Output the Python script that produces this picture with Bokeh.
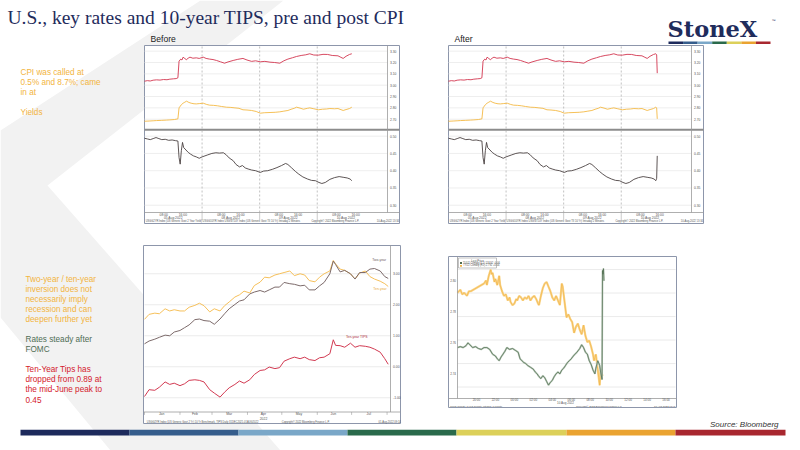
from bokeh.plotting import figure
from bokeh.models import Range1d
from bokeh.core.properties import value
from bokeh.embed import file_html
from bokeh.resources import INLINE

SANS = value("Liberation Sans")
SERIF = value("Liberation Serif")
NAVY = "#1f2c5c"
FRAME = "#8d96ab"
GRID = "#e6e6e6"
TXT = "#555555"
RED = "#d2364f"
YELLOW = "#f4b944"
DARK = "#4b4242"

# ---------------- data ----------------
# intraday (Before / After), x = trading days from 05 Aug 2022 00:00
red_day = [0.00, 0.05, 0.10, 0.15, 0.21, 0.27, 0.33, 0.39, 0.44, 0.50,
           0.55, 0.58, 0.60, 0.63, 0.65, 0.67, 0.70, 0.73, 0.76, 0.79,
           0.84, 0.90, 0.95, 1.02, 1.07, 1.13, 1.19, 1.25, 1.32, 1.39,
           1.45, 1.54, 1.62, 1.71, 1.78, 1.86, 1.93, 2.01, 2.09, 2.18,
           2.26, 2.35, 2.42, 2.49, 2.57, 2.64, 2.72, 2.80, 2.87, 2.94,
           3.02, 3.10, 3.18, 3.26, 3.36, 3.41, 3.45, 3.50, 3.56, 3.60]
red_2y = [3.035, 3.040, 3.037, 3.044, 3.047, 3.045, 3.050, 3.048, 3.053, 3.056,
          3.058, 3.065, 3.212, 3.230, 3.222, 3.247, 3.235, 3.224, 3.240, 3.247,
          3.238, 3.241, 3.236, 3.247, 3.236, 3.230, 3.226, 3.218, 3.206, 3.194,
          3.205, 3.218, 3.228, 3.236, 3.222, 3.210, 3.215, 3.206, 3.210, 3.203,
          3.200, 3.194, 3.215, 3.230, 3.242, 3.253, 3.262, 3.268, 3.277, 3.266,
          3.265, 3.272, 3.271, 3.262, 3.259, 3.246, 3.236, 3.255, 3.271, 3.277]
red_post_day = [3.615, 3.625]
red_post = [3.268, 3.106]

yel_day = [0.00, 0.08, 0.15, 0.21, 0.30, 0.38, 0.44, 0.52, 0.58, 0.60,
           0.64, 0.67, 0.70, 0.73, 0.77, 0.81, 0.86, 0.90, 0.96, 1.02,
           1.08, 1.13, 1.20, 1.27, 1.34, 1.42, 1.50, 1.57, 1.64, 1.71,
           1.78, 1.86, 1.94, 2.01, 2.08, 2.18, 2.27, 2.35, 2.42, 2.49,
           2.56, 2.60, 2.64, 2.70, 2.76, 2.83, 2.87, 2.94, 3.02, 3.09,
           3.16, 3.22, 3.30, 3.36, 3.45, 3.50, 3.56, 3.60]
yel_10y = [2.682, 2.684, 2.686, 2.688, 2.690, 2.692, 2.694, 2.697, 2.703, 2.800,
           2.828, 2.841, 2.850, 2.859, 2.848, 2.841, 2.836, 2.835, 2.838, 2.841,
           2.830, 2.824, 2.822, 2.818, 2.812, 2.806, 2.804, 2.800, 2.796, 2.783,
           2.781, 2.777, 2.768, 2.753, 2.757, 2.759, 2.761, 2.765, 2.771, 2.777,
           2.790, 2.796, 2.806, 2.798, 2.788, 2.796, 2.800, 2.792, 2.783, 2.788,
           2.790, 2.794, 2.792, 2.794, 2.777, 2.785, 2.794, 2.806]
yel_post_day = [3.615, 3.625]
yel_post = [2.800, 2.703]

blk_day = [0.00, 0.05, 0.10, 0.15, 0.20, 0.25, 0.30, 0.36, 0.42, 0.48,
           0.54, 0.58, 0.60, 0.62, 0.64, 0.66, 0.68, 0.72, 0.76, 0.80,
           0.85, 0.90, 0.95, 1.00, 1.05, 1.10, 1.17, 1.24, 1.30, 1.37,
           1.42, 1.47, 1.54, 1.59, 1.65, 1.70, 1.75, 1.80, 1.86, 1.93,
           2.01, 2.07, 2.14, 2.22, 2.30, 2.38, 2.45, 2.49, 2.55, 2.62,
           2.68, 2.75, 2.83, 2.90, 2.97, 3.03, 3.08, 3.14, 3.22, 3.30,
           3.38, 3.45, 3.52, 3.57, 3.60]
blk_tips = [0.494, 0.492, 0.490, 0.493, 0.496, 0.493, 0.490, 0.491, 0.488, 0.489,
            0.487, 0.486, 0.438, 0.419, 0.458, 0.482, 0.467, 0.460, 0.453, 0.448,
            0.443, 0.440, 0.436, 0.440, 0.443, 0.446, 0.450, 0.452, 0.451, 0.452,
            0.446, 0.437, 0.429, 0.418, 0.411, 0.415, 0.408, 0.405, 0.402, 0.400,
            0.395, 0.399, 0.400, 0.404, 0.409, 0.415, 0.421, 0.418, 0.409, 0.398,
            0.390, 0.382, 0.376, 0.372, 0.371, 0.366, 0.363, 0.366, 0.375, 0.380,
            0.383, 0.381, 0.379, 0.376, 0.371]
blk_post_day = [3.615, 3.625]
blk_post = [0.378, 0.443]

top_ticks = [3.30, 3.20, 3.10, 3.00, 2.90, 2.80, 2.70]
low_ticks = [0.50, 0.45, 0.40, 0.35, 0.30]
day_breaks = [1, 2, 3]
day_names = ["05 Aug 2022", "08 Aug 2022", "09 Aug 2022", "10 Aug 2022"]

# year to date (bottom left), x = days since 1 Jan 2022
ytd_day = [0, 4, 9, 13, 18, 22, 26, 31, 35, 39, 44, 48, 52, 57, 61, 66, 70, 74, 79, 83,
           87, 92, 96, 101, 105, 109, 114, 118, 122, 127, 131, 136, 140, 144, 149, 153,
           157, 162, 165, 167, 171, 175, 180, 184, 188, 193, 197, 201, 206, 210, 213]
two_year = [0.74, 0.83, 0.89, 0.95, 1.02, 1.00, 1.12, 1.17, 1.26, 1.35,
            1.52, 1.54, 1.49, 1.47, 1.37, 1.54, 1.71, 1.87, 2.01, 2.12,
            2.16, 2.35, 2.41, 2.46, 2.41, 2.48, 2.57, 2.57, 2.72, 2.68,
            2.66, 2.61, 2.63, 2.48, 2.48, 2.61, 2.72, 3.00, 3.41, 3.30,
            3.06, 3.11, 3.00, 2.83, 3.04, 3.04, 3.15, 3.17, 3.09, 2.91, 2.85]
ten_year = [1.53, 1.69, 1.73, 1.71, 1.87, 1.80, 1.84, 1.80, 1.80, 1.92,
            1.98, 2.05, 1.97, 1.77, 1.87, 1.80, 1.97, 2.09, 2.25, 2.32,
            2.44, 2.38, 2.62, 2.73, 2.89, 2.87, 2.96, 3.00, 3.04, 3.09,
            2.94, 3.00, 2.96, 2.78, 2.74, 2.89, 3.00, 3.09, 3.43, 3.32,
            3.15, 3.11, 3.00, 2.83, 3.02, 3.09, 2.91, 2.83, 2.76, 2.68, 2.59]
tips_10y = [-0.96, -0.74, -0.76, -0.66, -0.49, -0.57, -0.53, -0.61, -0.55, -0.44,
            -0.42, -0.44, -0.49, -0.74, -0.85, -0.98, -0.82, -0.68, -0.57, -0.46,
            -0.53, -0.42, -0.25, -0.12, -0.10, -0.01, -0.06, -0.03, 0.18, 0.26,
            0.31, 0.26, 0.31, 0.23, 0.20, 0.29, 0.31, 0.42, 0.87, 0.69,
            0.68, 0.63, 0.76, 0.63, 0.68, 0.66, 0.63, 0.57, 0.47, 0.26, 0.08]
ytd_ticks = [3.0, 2.0, 1.0, 0.0, -1.0]
month_mid = [15, 44, 74, 104, 135, 165, 196]
month_start = [0, 31, 59, 90, 120, 151, 181, 212]
month_names = ["Jan", "Feb", "Mar", "Apr", "May", "Jun", "Jul"]

# CPI day intraday (bottom right), x = hours from 09 Aug 18:00
yel_hr = [0.0, 0.3, 0.5, 0.7, 1.0, 1.2, 1.4, 2.8, 3.0, 3.1,
          3.3, 3.5, 3.6, 3.7, 3.9, 4.0, 4.2, 4.4, 4.5, 4.7,
          4.9, 5.1, 5.3, 5.5, 5.6, 5.8, 6.0, 6.2, 6.3, 6.5,
          6.7, 6.9, 7.1, 7.3, 7.5, 7.7, 7.9, 8.1, 8.3, 8.5,
          8.6, 8.8, 9.0, 9.2, 9.4, 9.6, 9.8, 10.0, 10.2, 10.4,
          10.6, 10.8, 11.0, 11.1, 11.3, 11.5, 11.7, 11.9, 12.1, 12.3,
          12.5, 12.7, 12.9, 13.1, 13.3, 13.5, 13.7, 13.9, 14.1, 14.3,
          14.4, 14.6, 14.8, 14.9, 15.0, 15.1, 15.3]
yel_px = [2.792, 2.794, 2.791, 2.792, 2.790, 2.793, 2.793, 2.798, 2.800, 2.797,
          2.803, 2.807, 2.804, 2.805, 2.799, 2.801, 2.797, 2.803, 2.797, 2.793,
          2.790, 2.791, 2.787, 2.789, 2.786, 2.784, 2.785, 2.788, 2.787, 2.790,
          2.789, 2.787, 2.789, 2.788, 2.790, 2.787, 2.789, 2.790, 2.788, 2.785,
          2.784, 2.790, 2.795, 2.798, 2.799, 2.796, 2.793, 2.789, 2.787, 2.790,
          2.787, 2.784, 2.798, 2.796, 2.786, 2.776, 2.778, 2.775, 2.773, 2.766,
          2.770, 2.772, 2.768, 2.765, 2.771, 2.764, 2.760, 2.761, 2.757, 2.752,
          2.748, 2.752, 2.742, 2.737, 2.732, 2.742, 2.738]
grn_hr = [0.0, 0.3, 0.6, 0.9, 1.1, 1.3, 1.6, 1.9, 2.2, 2.5,
          2.8, 3.1, 3.4, 3.7, 4.0, 4.2, 4.4, 4.6, 4.8, 5.0,
          5.2, 5.5, 5.8, 6.1, 6.4, 6.6, 6.8, 7.0, 7.2, 7.4,
          7.7, 8.0, 8.2, 8.4, 8.6, 8.8, 9.0, 9.2, 9.4, 9.6,
          9.8, 10.0, 10.2, 10.4, 10.6, 10.8, 11.0, 11.2, 11.4, 11.6,
          11.8, 12.0, 12.3, 12.6, 12.9, 13.1, 13.3, 13.5, 13.7, 13.9,
          14.1, 14.3, 14.5, 14.6, 14.8, 15.0, 15.1, 15.25, 15.3, 15.35,
          15.4, 15.45]
grn_px = [118.92, 118.93, 118.92, 118.94, 118.97, 118.95, 118.92, 118.93, 118.91, 118.90,
          118.92, 118.92, 118.90, 118.85, 118.83, 118.80, 118.78, 118.82, 118.85, 118.88,
          118.92, 118.90, 118.91, 118.89, 118.87, 118.80, 118.78, 118.76, 118.75, 118.73,
          118.71, 118.69, 118.66, 118.64, 118.61, 118.59, 118.62, 118.60, 118.56, 118.52,
          118.55, 118.57, 118.61, 118.64, 118.66, 118.64, 118.68, 118.70, 118.73, 118.76,
          118.78, 118.80, 118.84, 118.87, 118.91, 118.95, 118.92, 118.87, 118.85, 118.78,
          118.74, 118.68, 118.64, 118.70, 118.78, 118.73, 118.66, 118.58, 119.74, 119.70,
          119.76, 119.63]
yel_ticks = [2.80, 2.78, 2.76, 2.74]
grn_ticks = [119.75, 119.50, 119.25, 119.00, 118.75, 118.50]
hr_ticks = [2, 4, 6, 8, 10, 12, 14, 16, 18, 20, 22]
hr_names = ["20:00", "22:00", "00:00", "02:00", "04:00", "06:00",
            "08:00", "10:00", "12:00", "14:00", "16:00"]

TITLE = "U.S., key rates and 10-year TIPS, pre and post CPI"
CPI_NOTE = ["CPI was called at", "0.5% and 8.7%; came", "in at", "", "Yields"]
CURVE_NOTE = ["Two-year / ten-year", "inversion does not", "necessarily imply",
              "recession and can", "deepen further yet"]
FOMC_NOTE = ["Rates steady after", "FOMC"]
TIPS_NOTE = ["Ten-Year Tips has", "dropped from 0.89 at", "the mid-June peak to", "0.45"]
BAR_COLORS = ["#1d2a5c", "#355d8c", "#7aa7c8", "#2a6a4b", "#dcd05a", "#eaa331", "#a8272f"]

# ---------------- page ----------------
W, H = 800, 450
p = figure(width=W, height=H, x_range=Range1d(0, W), y_range=Range1d(H, 0),
           output_backend="svg", toolbar_location=None, min_border=0,
           x_axis_location=None, y_axis_location=None)
p.xgrid.visible = False
p.ygrid.visible = False
p.outline_line_color = None
p.background_fill_color = "white"

# faint chevron watermark
p.patch([200, 283, 47, 280, 110, 0, 0], [0, 0, 185, 450, 450, 317, 130],
        color="#f2f2f2", line_color=None)

p.text(x=[7], y=[17], text=[TITLE], text_font=SERIF, text_font_size="19.5px",
       text_color=NAVY, text_baseline="middle")
p.text(x=[667], y=[28.5], text=["StoneX"], text_font=value("DejaVu Serif"),
       text_font_style="bold", text_font_size="22.5px", text_color=NAVY,
       text_baseline="middle")
p.text(x=[771], y=[20], text=["\u2122"], text_font=SANS, text_font_size="4px",
       text_color=NAVY, text_baseline="middle")
seg = 102 / len(BAR_COLORS)
p.quad(left=[668 + i * seg for i in range(7)], right=[668 + (i + 1) * seg for i in range(7)],
       top=41, bottom=43.5, color=BAR_COLORS, line_color=None)


def note(lines, x, y0, color):
    p.text(x=[x] * len(lines), y=[y0 + 10 * i for i in range(len(lines))], text=lines,
           text_font=SANS, text_font_size="8.2px", text_color=color,
           text_baseline="middle")


note(CPI_NOTE, 20, 71.7, "#f2b440")
note(CURVE_NOTE, 25, 279, "#f2b440")
note(FOMC_NOTE, 25, 339, "#4f6d55")
note(TIPS_NOTE, 25, 369, "#d4202c")


def tiny(sub, x, y, text, size="3.3px", color=TXT, **kw):
    sub.text(x=x, y=y, text=text, text_font=SANS, text_font_size=size,
             text_color=color, **kw)


def box(l, r, t, b):
    p.quad(left=l, right=r, top=t, bottom=b, fill_color="white",
           line_color=FRAME, line_width=1)


# ---------------- Before / After intraday charts ----------------
SPAN = 4.22
TOP_LIM = (2.618, 3.350)
LOW_LIM = (0.279, 0.515)


def intraday(x0, label, post):
    x1 = x0 + 243
    box(x0, x1 + 12, 45, 223)
    p.text(x=[x0 + 6], y=[38], text=[label], text_font=SANS, text_font_size="8.6px",
           text_color="#222222", text_baseline="middle")
    top = p.subplot(x_source=Range1d(0, SPAN), y_source=Range1d(*TOP_LIM),
                    x_target=Range1d(x0, x1), y_target=Range1d(128, 45))
    low = p.subplot(x_source=Range1d(0, SPAN), y_source=Range1d(*LOW_LIM),
                    x_target=Range1d(x0, x1), y_target=Range1d(212, 130.5))
    band = p.subplot(x_source=Range1d(0, SPAN), y_source=Range1d(0, 1),
                     x_target=Range1d(x0, x1), y_target=Range1d(223, 212))
    for sub, ticks, lim in ((top, top_ticks, TOP_LIM), (low, low_ticks, LOW_LIM)):
        sub.segment(x0=[0] * len(ticks), x1=[SPAN] * len(ticks), y0=ticks, y1=ticks,
                    line_color=GRID, line_width=0.7)
        sub.segment(x0=day_breaks, x1=day_breaks, y0=[lim[0]] * 3, y1=[lim[1]] * 3,
                    line_color="#a8a8a8", line_width=0.7, line_dash="2 2")
        tiny(sub, [SPAN] * len(ticks), ticks, ["%.2f" % t for t in ticks],
             x_offset=2.5, text_baseline="middle")
    rx, ry = red_day + (red_post_day if post else []), red_2y + (red_post if post else [])
    yx, yy = yel_day + (yel_post_day if post else []), yel_10y + (yel_post if post else [])
    bx, by = blk_day + (blk_post_day if post else []), blk_tips + (blk_post if post else [])
    top.line(rx, ry, line_color=RED, line_width=0.9)
    top.line(yx, yy, line_color=YELLOW, line_width=0.9)
    low.line(bx, by, line_color=DARK, line_width=0.9)
    # separator between panels, axes
    p.quad(left=x0, right=x1 + 12, top=128.3, bottom=130.3, color="#8c8c8c", line_color=None)
    p.segment(x0=[x1, x0], y0=[45, 212], x1=[x1, x1 + 12], y1=[212, 212],
              line_color="#9a9a9a", line_width=0.8)
    hours = [d + f for d in range(4) for f in (1 / 3, 2 / 3)]
    tiny(band, hours, [0.82] * len(hours), ["08:00", "16:00"] * 4,
         text_align="center", text_baseline="middle")
    band.segment(x0=day_breaks, x1=day_breaks, y0=[1] * 3, y1=[0.3] * 3,
                 line_color="#a8a8a8", line_width=0.6)
    tiny(band, [d + 0.5 for d in range(4)], [0.52] * 4, day_names,
         text_align="center", text_baseline="middle")
    tiny(band, [0.02], [0.15], ["USGG2YR Index (US Generic Govt 2 Year Yield)  USGG10YR Index  "
                                "USGGT10Y Index (US Generic Govt TII 10 Yr)  Intraday  2 Minutes"],
         size="2.6px", text_baseline="middle")
    tiny(band, [2.9], [0.15], ["Copyright\u00a9 2022 Bloomberg Finance L.P."],
         size="2.6px", text_baseline="middle")
    tiny(band, [SPAN + 0.2], [0.15], ["10-Aug-2022 13:34"], size="2.6px",
         text_align="right", text_baseline="middle")


intraday(144, "Before", False)
intraday(448, "After", True)

# ---------------- year-to-date chart ----------------
YTD_LIM = (-1.46, 3.88)
box(143, 400, 245, 423)
ytd = p.subplot(x_source=Range1d(0, 215), y_source=Range1d(*YTD_LIM),
                x_target=Range1d(144, 390), y_target=Range1d(411.5, 246))
yband = p.subplot(x_source=Range1d(0, 215), y_source=Range1d(0, 1),
                  x_target=Range1d(144, 390), y_target=Range1d(423, 411.5))
ytd.segment(x0=[0] * 5, x1=[215] * 5, y0=ytd_ticks, y1=ytd_ticks, line_color=GRID, line_width=0.8)
ytd.line(ytd_day, ten_year, line_color="#f6c05a", line_width=1)
ytd.line(ytd_day, two_year, line_color="#7c6a6a", line_width=1)
ytd.line(ytd_day, tips_10y, line_color="#d23a52", line_width=1)
tiny(ytd, [215] * 5, ytd_ticks, ["%.2f" % t for t in ytd_ticks], size="3.4px",
     x_offset=2.5, text_baseline="middle")
tiny(ytd, [199], [3.38], ["Two-year"], size="3.4px", color="#6e6060")
tiny(ytd, [200], [2.45], ["Ten-year"], size="3.4px", color="#e8a93a")
tiny(ytd, [176], [0.90], ["Ten-year TIPS"], size="3.4px", color="#b03040")
p.segment(x0=[390, 143], y0=[245, 411.5], x1=[390, 400], y1=[411.5, 411.5],
          line_color="#9a9a9a", line_width=0.8)
yband.segment(x0=month_start, x1=month_start, y0=[1] * 8, y1=[0.75] * 8,
              line_color="#9a9a9a", line_width=0.6)
tiny(yband, month_mid, [0.8] * 7, month_names, size="3.4px",
     text_align="center", text_baseline="middle")
tiny(yband, [104], [0.45], ["2022"], size="3.4px", text_align="center", text_baseline="middle")
tiny(yband, [2], [0.13], ["USGG2YR Index (US Generic Govt 2 Yr)  10 Yr Benchmark, TIPS  "
                          "Daily 31DEC2021-01AUG2022"], size="2.6px", text_baseline="middle")
tiny(yband, [120], [0.13], ["Copyright\u00a9 2022 Bloomberg Finance L.P."], size="2.6px",
     text_baseline="middle")
tiny(yband, [224], [0.13], ["01-Aug-2022 09:14"], size="2.6px", text_align="right",
     text_baseline="middle")

# ---------------- CPI day chart ----------------
YEL_LIM = (2.7234, 2.8149)
GRN_LIM = (118.378, 119.878)
box(448, 676, 256, 407)
ychart = p.subplot(x_source=Range1d(0, 23), y_source=Range1d(*YEL_LIM),
                   x_target=Range1d(457, 675), y_target=Range1d(398, 257))
gchart = p.subplot(x_source=Range1d(0, 23), y_source=Range1d(*GRN_LIM),
                   x_target=Range1d(457, 675), y_target=Range1d(398, 257))
hband = p.subplot(x_source=Range1d(0, 23), y_source=Range1d(0, 1),
                  x_target=Range1d(457, 675), y_target=Range1d(407, 398))
gchart.segment(x0=[0] * 6, x1=[23] * 6, y0=grn_ticks, y1=grn_ticks, line_color=GRID,
               line_width=0.8)
ychart.line(yel_hr, yel_px, line_color="#f9d58c", line_width=2.2)
ychart.line(yel_hr, yel_px, line_color="#f2b548", line_width=0.7)
gchart.line(grn_hr, grn_px, line_color="#b9c8b9", line_width=1.8)
gchart.line(grn_hr, grn_px, line_color="#4d6b4d", line_width=0.7)
tiny(ychart, [0] * 4, yel_ticks, ["%.2f" % t for t in yel_ticks], size="3px",
     x_offset=-1.5, text_align="right", text_baseline="middle")
p.segment(x0=[457, 448], y0=[256, 398], x1=[457, 676], y1=[398, 398],
          line_color="#9a9a9a", line_width=0.8)
tiny(hband, hr_ticks, [0.82] * len(hr_ticks), hr_names, size="3px",
     text_align="center", text_baseline="middle")
tiny(hband, [11.4], [0.5], ["10 Aug 2022"], size="3px", text_align="center",
     text_baseline="middle")
tiny(hband, [-0.8], [0.16], ["TUU2 Comdty  TYU2 Comdty  Intraday  1 Minute"],
     size="2.5px", text_baseline="middle")
tiny(hband, [12.5], [0.16], ["Copyright\u00a9 2022 Bloomberg Finance L.P."],
     size="2.5px", text_baseline="middle")
tiny(hband, [23], [0.16], ["10-Aug-2022 13:41"], size="2.5px", text_align="right",
     text_baseline="middle")
# legend
p.quad(left=458, right=496, top=257.5, bottom=267.5, fill_color="white",
       line_color="#9a9a9a", line_width=0.6)
p.text(x=[477], y=[259.7], text=["Last Price"], text_font=SANS, text_font_size="2.8px",
       text_color=TXT, text_align="center", text_baseline="middle")
p.quad(left=[459.5, 459.5], right=[461.5, 461.5], top=[261.6, 264.4], bottom=[263.4, 266.2],
       color=["#4d6b4d", "#f2b548"], line_color=None)
p.text(x=[462.5, 462.5], y=[262.5, 265.3],
       text=["TUU2 Comdty (L1)  118.92  -0.06", "TYU2 Comdty (R1)  2.792  +0.04"],
       text_font=SANS, text_font_size="2.6px", text_color=TXT, text_baseline="middle")

# ---------------- footer ----------------
p.text(x=[778], y=[423.5], text=["Source: Bloomberg"], text_font=SANS,
       text_font_style="italic", text_font_size="8px", text_color="#333333",
       text_align="right", text_baseline="middle")
edges = [20, 129, 238, 347, 456, 566, 675, 785]
p.quad(left=edges[:-1], right=edges[1:], top=429.3, bottom=435, color=BAR_COLORS,
       line_color=None)

open("out.html", "w").write(file_html(p, INLINE))
